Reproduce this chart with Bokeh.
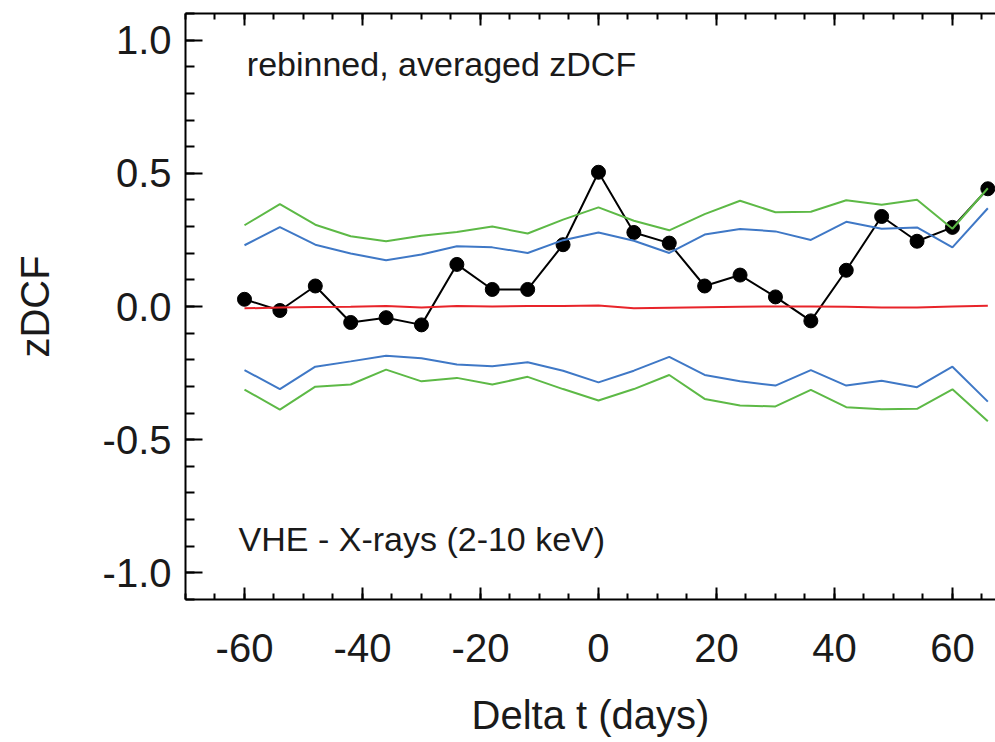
from bokeh.plotting import figure
from bokeh.models import Range1d, LinearAxis, FixedTicker, Label, CustomLabelingPolicy
from bokeh.embed import file_html
from bokeh.resources import INLINE

# ---- data ----
dt = [-60, -54, -48, -42, -36, -30, -24, -18, -12, -6, 0,
      6, 12, 18, 24, 30, 36, 42, 48, 54, 60, 66]
zdcf = [0.027, -0.015, 0.077, -0.060, -0.042, -0.069, 0.158, 0.064, 0.064, 0.232, 0.504,
        0.278, 0.238, 0.077, 0.118, 0.036, -0.054, 0.136, 0.338, 0.245, 0.297, 0.442]
sim_mean = [-0.007, -0.004, -0.002, -0.001, 0.002, -0.004, 0.002, 0.000, 0.002, 0.002, 0.004,
            -0.007, -0.005, -0.003, -0.001, 0.000, 0.000, -0.001, -0.004, -0.004, 0.000, 0.003]
blue_hi = [0.230, 0.298, 0.232, 0.199, 0.174, 0.195, 0.226, 0.222, 0.201, 0.249, 0.278,
           0.247, 0.201, 0.270, 0.291, 0.282, 0.250, 0.318, 0.292, 0.297, 0.222, 0.369]
blue_lo = [-0.239, -0.310, -0.226, -0.206, -0.185, -0.194, -0.218, -0.224, -0.209, -0.241, -0.285,
           -0.241, -0.189, -0.257, -0.281, -0.297, -0.239, -0.297, -0.279, -0.303, -0.226, -0.357]
green_hi = [0.305, 0.384, 0.307, 0.264, 0.245, 0.266, 0.280, 0.300, 0.274, 0.326, 0.372,
            0.322, 0.286, 0.347, 0.397, 0.354, 0.356, 0.399, 0.382, 0.401, 0.292, 0.444]
green_lo = [-0.312, -0.387, -0.301, -0.293, -0.237, -0.281, -0.268, -0.293, -0.264, -0.310, -0.353,
            -0.310, -0.257, -0.347, -0.372, -0.375, -0.313, -0.378, -0.386, -0.384, -0.311, -0.431]

x_ticks = [-60, -40, -20, 0, 20, 40, 60]
x_tick_labels = ["-60", "-40", "-20", "0", "20", "40", "60"]
x_minor = list(range(-70, 71, 5))
y_ticks = [-1.0, -0.5, 0.0, 0.5, 1.0]
y_tick_labels = ["-1.0", "-0.5", "0.0", "0.5", "1.0"]
y_minor = [round(-1.1 + 0.1 * i, 1) for i in range(23)]

FONT = "Liberation Sans"
GREEN = "#5db946"
BLUE = "#3f78c6"
RED = "#e8242a"
TXT = "#1a1a1a"

p = figure(width=995, height=742,
           x_range=Range1d(-70, 67.3), y_range=Range1d(-1.1, 1.1),
           output_backend="svg", toolbar_location=None,
           min_border_left=185, min_border_right=0,
           min_border_top=13, min_border_bottom=143,
           x_axis_label="Delta t (days)", y_axis_label="zDCF")
p.xgrid.visible = False
p.ygrid.visible = False
p.outline_line_color = None
p.background_fill_color = "white"
p.border_fill_color = "white"

xa = p.xaxis[0]
xa.ticker = FixedTicker(ticks=x_ticks, minor_ticks=x_minor)
xa.major_label_overrides = {t: s for t, s in zip(x_ticks, x_tick_labels)}
ya = p.yaxis[0]
ya.ticker = FixedTicker(ticks=y_ticks, minor_ticks=y_minor)
ya.major_label_overrides = {t: s for t, s in zip(y_ticks, y_tick_labels)}

for ax in (xa, ya):
    ax.axis_line_width = 2
    ax.axis_line_color = "black"
    ax.major_tick_line_width = 2
    ax.minor_tick_line_width = 2
    ax.major_tick_line_color = "black"
    ax.minor_tick_line_color = "black"
    ax.major_tick_out = 0
    ax.minor_tick_out = 0
    ax.major_label_text_font = FONT
    ax.major_label_text_font_size = "40px"
    ax.major_label_text_color = TXT
    ax.axis_label_text_font = FONT
    ax.axis_label_text_font_size = "40px"
    ax.axis_label_text_font_style = "normal"
    ax.axis_label_text_color = TXT

xa.major_tick_in = 12
xa.minor_tick_in = 6
xa.major_label_standoff = 34
xa.axis_label_standoff = 28
ya.major_tick_in = 17
ya.minor_tick_in = 9
ya.major_label_standoff = 14
ya.axis_label_standoff = 43

# top frame edge: ticks only, no labels
no_labels = CustomLabelingPolicy(code="""
const all = [...indices]
for (const i of all) indices.unset(i)
return indices
""")
top = LinearAxis(ticker=FixedTicker(ticks=x_ticks, minor_ticks=x_minor),
                 axis_line_width=2, axis_line_color="black",
                 major_tick_in=12, major_tick_out=0, minor_tick_in=6, minor_tick_out=0,
                 major_tick_line_width=2, minor_tick_line_width=2,
                 major_label_policy=no_labels,
                 major_label_text_font_size="10px", major_label_standoff=0)
p.add_layout(top, "above")

# black zDCF curve with dots
p.line(dt, zdcf, line_color="black", line_width=2)
p.scatter(dt, zdcf, size=14, fill_color="black", line_color="black")
# simulation lines
p.line(dt, sim_mean, line_color=RED, line_width=2)
p.line(dt, blue_hi, line_color=BLUE, line_width=2)
p.line(dt, blue_lo, line_color=BLUE, line_width=2)
p.line(dt, green_hi, line_color=GREEN, line_width=2)
p.line(dt, green_lo, line_color=GREEN, line_width=2)

p.add_layout(Label(x=-59.6, y=0.91, text="rebinned, averaged zDCF",
                   text_font=FONT, text_font_size="34px", text_color=TXT,
                   text_baseline="alphabetic"))
p.add_layout(Label(x=-61.0, y=-0.873, text="VHE - X-rays (2-10 keV)",
                   text_font=FONT, text_font_size="34px", text_color=TXT,
                   text_baseline="alphabetic"))

open("out.html", "w").write(file_html(p, INLINE))
